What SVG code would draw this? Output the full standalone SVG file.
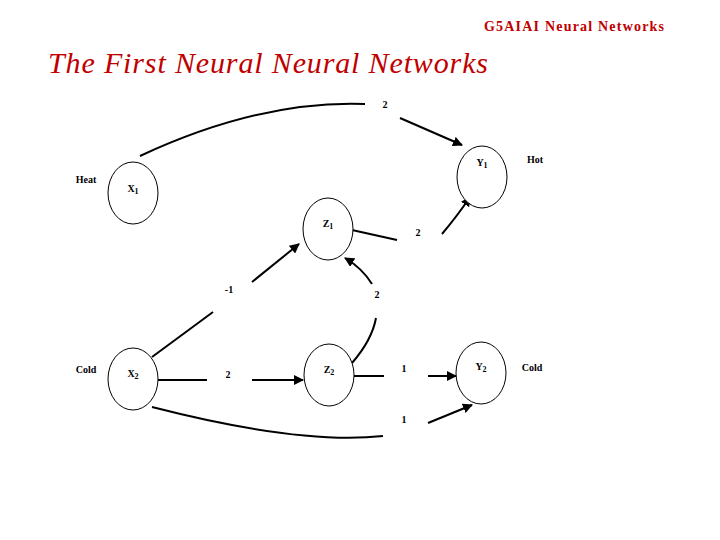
<svg xmlns="http://www.w3.org/2000/svg" width="720" height="540" viewBox="0 0 720 540">
<defs>
<marker id="ah" viewBox="0 0 10 10" refX="9" refY="5" markerWidth="5" markerHeight="5" orient="auto"><path d="M0,0 L10,5 L0,10 z" fill="#000"/></marker>
<style>
.n{fill:#fff;stroke:#000;stroke-width:1}
.t{font-family:"Liberation Serif",serif;font-size:10px;font-weight:bold;text-anchor:middle}
.c path{fill:none;stroke:#000;stroke-width:2}
.a{marker-end:url(#ah)}
</style>
</defs>
<rect width="720" height="540" fill="#fff"/>
<text x="484" y="31" font-family="Liberation Serif,serif" font-size="14" font-weight="bold" fill="#c00000" textLength="180">G5AIAI  Neural Networks</text>
<text x="48" y="73" font-family="Liberation Serif,serif" font-size="30" font-style="italic" fill="#c00000" textLength="440">The First Neural Neural Networks</text>
<g class="c">
<path d="M140,156 Q260,100 365,104"/>
<path class="a" d="M400,118 L462,145"/>
<path d="M352,230 L397,240"/>
<path class="a" d="M442,234 Q458,215 470,197"/>
<path d="M152,357 L213,312"/>
<path class="a" d="M252,282 L299,244"/>
<path d="M352,363 Q372,340 376,318"/>
<path class="a" d="M372,284 Q362,268 345,258"/>
<path d="M158,380 L207,380"/>
<path class="a" d="M252,380 L303,380"/>
<path d="M354,376 L384,376"/>
<path class="a" d="M428,376 L456,376"/>
<path d="M152,407 Q300,445 383,436"/>
<path class="a" d="M428,423 L472,405"/>
</g>
<g id="X1"><ellipse class="n" cx="133" cy="193" rx="25" ry="31"/><text class="t" x="133" y="192">X<tspan font-size="8" dy="2">1</tspan></text></g>
<g id="Y1"><ellipse class="n" cx="482" cy="177" rx="25" ry="31"/><text class="t" x="482" y="166">Y<tspan font-size="8" dy="2">1</tspan></text></g>
<g id="Z1"><ellipse class="n" cx="328" cy="229" rx="25" ry="31"/><text class="t" x="328" y="227">Z<tspan font-size="8" dy="2">1</tspan></text></g>
<g id="X2"><ellipse class="n" cx="133" cy="379" rx="25" ry="31"/><text class="t" x="133" y="377">X<tspan font-size="8" dy="2">2</tspan></text></g>
<g id="Z2"><ellipse class="n" cx="329" cy="375" rx="25" ry="31"/><text class="t" x="329" y="373">Z<tspan font-size="8" dy="2">2</tspan></text></g>
<g id="Y2"><ellipse class="n" cx="481" cy="373" rx="25" ry="31"/><text class="t" x="481" y="370">Y<tspan font-size="8" dy="2">2</tspan></text></g>
<g class="t">
<text x="86" y="183">Heat</text>
<text x="535" y="163">Hot</text>
<text x="86" y="373">Cold</text>
<text x="532" y="371">Cold</text>
<text x="385" y="108">2</text>
<text x="418" y="236">2</text>
<text x="229" y="293">-1</text>
<text x="377" y="298">2</text>
<text x="228" y="378">2</text>
<text x="404" y="372">1</text>
<text x="404" y="423">1</text>
</g>
</svg>
